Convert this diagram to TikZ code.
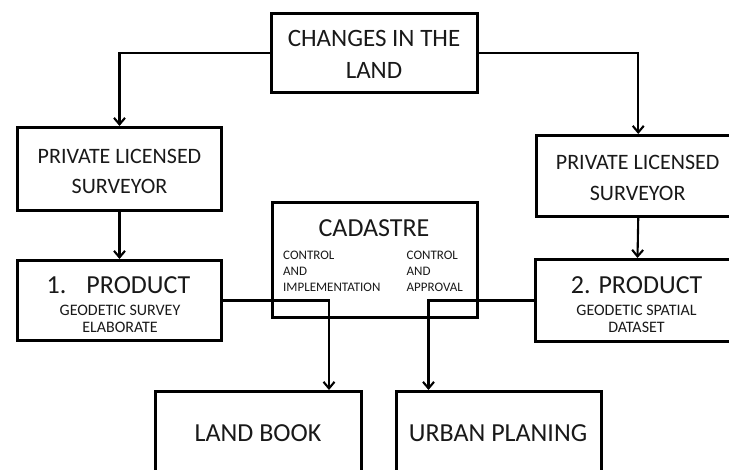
\documentclass[tikz,border=0pt]{standalone}
\usepackage{fontspec}
\setmainfont{Carlito}
\usetikzlibrary{arrows.meta}
\begin{document}
\begin{tikzpicture}[x=1pt,y=-1pt,
  box/.style={draw,line width=3pt,inner sep=0pt,rectangle},
  conn/.style={line width=2.1pt,-{Straight Barb[length=6.5pt,width=11pt]}},
  txt/.style={anchor=base,inner sep=0pt,text=black!90},
  fbig/.style={font=\fontsize{25}{30}\selectfont},
  fmid/.style={font=\fontsize{22}{26}\selectfont},
  fprod/.style={font=\fontsize{26}{30}\selectfont},
  fsub/.style={font=\fontsize{16}{19}\selectfont},
  fsmall/.style={font=\fontsize{13}{16}\selectfont}]
\useasboundingbox (0,0) rectangle (729,470);
\clip (0,0) rectangle (729,470);
% boxes
\node[box,minimum width=206pt,minimum height=79pt] (changes) at (374.75,53) {};
\node[box,minimum width=204pt,minimum height=83pt] (lps) at (119.5,169) {};
\node[box,minimum width=203pt,minimum height=81pt] (rps) at (638.25,176) {};
\node[box,minimum width=205pt,minimum height=115pt] (cad) at (375,260) {};
\node[box,minimum width=204pt,minimum height=80pt] (lprod) at (119.5,300.5) {};
\node[box,minimum width=204pt,minimum height=82pt] (rprod) at (637.5,300.5) {};
\node[box,minimum width=206pt,minimum height=98pt] (landbook) at (258.5,441) {};
\node[box,minimum width=205pt,minimum height=98pt] (urban) at (498.85,441) {};
% texts
\node[txt,fbig] (t1) at (374,46.7) {CHANGES IN THE};
\node[txt,fbig] (t2) at (374,78.5) {LAND};
\node[txt,fmid] (t3) at (119.5,163.3) {PRIVATE LICENSED};
\node[txt,fmid] (t4) at (119.5,194) {SURVEYOR};
\node[txt,fmid] (t5) at (637.7,170) {PRIVATE LICENSED};
\node[txt,fmid] (t6) at (637.7,200.5) {SURVEYOR};
\node[txt,fprod,anchor=base west] (t7) at (46.5,294) {1.\hspace{20pt}PRODUCT};
\node[txt,fsub] (t8) at (120,315.5) {GEODETIC SURVEY};
\node[txt,fsub] (t9) at (120,333) {ELABORATE};
\node[txt,fprod] (t10) at (636.7,294) {2. PRODUCT};
\node[txt,fsub] (t11) at (636.5,315.5) {GEODETIC SPATIAL};
\node[txt,fsub] (t12) at (636.5,333) {DATASET};
\node[txt,fprod] (t13) at (374,236.5) {CADASTRE};
\node[txt,fsmall,anchor=base west] (t14) at (283,259.5) {CONTROL};
\node[txt,fsmall,anchor=base west] (t15) at (283,275.5) {AND};
\node[txt,fsmall,anchor=base west] (t16) at (283,291.5) {IMPLEMENTATION};
\node[txt,fsmall,anchor=base west] (t17) at (406.5,259.5) {CONTROL};
\node[txt,fsmall,anchor=base west] (t18) at (406.5,275.5) {AND};
\node[txt,fsmall,anchor=base west] (t19) at (406.5,291.5) {APPROVAL};
\node[txt,fprod] (t20) at (258,441.5) {LAND BOOK};
\node[txt,fprod] (t21) at (498,441.5) {URBAN PLANING};
% connector ends
\coordinate (lbin) at (329,390);
\coordinate (upin) at (428.5,390);
% connectors
\draw[conn] (changes.west) -| (lps.north);
\draw[conn] (changes.east) -| (rps.north);
\draw[conn] (lps.south) -- (lprod.north);
\draw[conn] (rps.south) -- (rprod.north);
\draw[conn] (lprod.east) -| (lbin);
\draw[conn] (rprod.west) -| (upin);
\end{tikzpicture}
\end{document}
